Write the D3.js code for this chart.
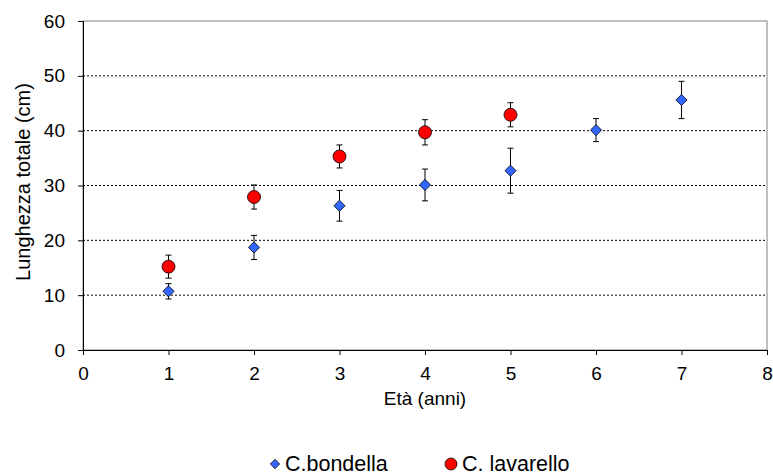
<!DOCTYPE html>
<html>
<head>
<meta charset="utf-8">
<script src="https://cdn.jsdelivr.net/npm/d3@7"></script>
<style>
  body { margin: 0; background: #fff; }
  text { font-family: "Liberation Sans", Arial, sans-serif; fill: #000; }
</style>
</head>
<body>
<div id="viz"></div>
<script>
// dati
const eta = [1, 2, 3, 4, 5, 6, 7]
const bondella = [10.7, 18.7, 26.3, 30.1, 32.7, 40.1, 45.6]
const bondellaErr = [1.4, 2.2, 2.8, 2.9, 4.1, 2.1, 3.4]
const etaLav = [1, 2, 3, 4, 5]
const lavarello = [15.2, 27.9, 35.3, 39.7, 42.9]
const lavarelloErr = [2.1, 2.2, 2.1, 2.3, 2.2]
const xTicks = [0, 1, 2, 3, 4, 5, 6, 7, 8]
const yTicks = [0, 10, 20, 30, 40, 50, 60]

const width = 773
const height = 475
const margin = { top: 21, right: 6, bottom: 125, left: 83 }

const svg = d3.select("#viz").append("svg")
  .attr("width", width)
  .attr("height", height)

const x = d3.scaleLinear().domain([0, 8]).range([margin.left, width - margin.right])
const y = d3.scaleLinear().domain([0, 60]).range([height - margin.bottom, margin.top])

// griglia
svg.append("g")
  .selectAll("line")
  .data(yTicks.filter(d => d > 0 && d < 60))
  .join("line")
  .attr("x1", x(0)).attr("x2", x(8))
  .attr("y1", d => y(d)).attr("y2", d => y(d))
  .attr("stroke", "#000")
  .attr("stroke-width", 1)
  .attr("stroke-dasharray", "2,2")

// bordo
svg.append("rect")
  .attr("x", x(0)).attr("y", y(60))
  .attr("width", x(8) - x(0)).attr("height", y(0) - y(60))
  .attr("fill", "none")
  .attr("stroke", "#808080")

// assi
const xAxis = svg.append("g")
  .attr("transform", `translate(0,${y(0)})`)
  .call(d3.axisBottom(x).tickValues(xTicks).tickFormat(d3.format("d")).tickSize(5).tickPadding(12))
xAxis.selectAll("text").style("font-size", "19px")

const yAxis = svg.append("g")
  .attr("transform", `translate(${x(0)},0)`)
  .call(d3.axisLeft(y).tickValues(yTicks).tickSize(5).tickPadding(13))
yAxis.selectAll("text").style("font-size", "19px")

svg.selectAll(".domain").attr("stroke", "#000")
svg.selectAll(".tick line").attr("stroke", "#000")

svg.append("text")
  .attr("x", (x(0) + x(8)) / 2)
  .attr("y", 405)
  .attr("text-anchor", "middle")
  .style("font-size", "19px")
  .text("Età (anni)")

svg.append("text")
  .attr("transform", `translate(30,182) rotate(-90)`)
  .attr("text-anchor", "middle")
  .style("font-size", "20px")
  .text("Lunghezza totale (cm)")

// barre d'errore
function errorBars(xs, vals, errs) {
  const g = svg.append("g").attr("stroke", "#000").attr("stroke-width", 1)
  xs.forEach((v, i) => {
    const cx = x(v)
    const lo = y(vals[i] - errs[i])
    const hi = y(vals[i] + errs[i])
    g.append("line").attr("x1", cx).attr("x2", cx).attr("y1", lo).attr("y2", hi)
    g.append("line").attr("x1", cx - 3).attr("x2", cx + 3).attr("y1", lo).attr("y2", lo)
    g.append("line").attr("x1", cx - 3).attr("x2", cx + 3).attr("y1", hi).attr("y2", hi)
  })
}
errorBars(eta, bondella, bondellaErr)
errorBars(etaLav, lavarello, lavarelloErr)

const diamond = d3.symbol().type(d3.symbolDiamond2).size(80)

svg.append("g")
  .selectAll("path")
  .data(eta)
  .join("path")
  .attr("d", diamond)
  .attr("transform", (d, i) => `translate(${x(d)},${y(bondella[i])})`)
  .attr("fill", "#3366ff")
  .attr("stroke", "#000")
  .attr("stroke-width", 0.8)

svg.append("g")
  .selectAll("circle")
  .data(etaLav)
  .join("circle")
  .attr("cx", d => x(d))
  .attr("cy", (d, i) => y(lavarello[i]))
  .attr("r", 6.5)
  .attr("fill", "#ff0000")
  .attr("stroke", "#000")
  .attr("stroke-width", 0.8)

// legenda
const leg = svg.append("g")
leg.append("path")
  .attr("d", d3.symbol().type(d3.symbolDiamond2).size(55))
  .attr("transform", "translate(275,464)")
  .attr("fill", "#3366ff")
  .attr("stroke", "#000")
  .attr("stroke-width", 0.8)
leg.append("text")
  .attr("x", 285).attr("y", 471)
  .style("font-size", "21.5px")
  .text("C.bondella")
leg.append("circle")
  .attr("cx", 451).attr("cy", 464).attr("r", 6)
  .attr("fill", "#ff0000")
  .attr("stroke", "#000")
  .attr("stroke-width", 0.8)
leg.append("text")
  .attr("x", 462).attr("y", 471)
  .style("font-size", "21.5px")
  .text("C. lavarello")
</script>
</body>
</html>
